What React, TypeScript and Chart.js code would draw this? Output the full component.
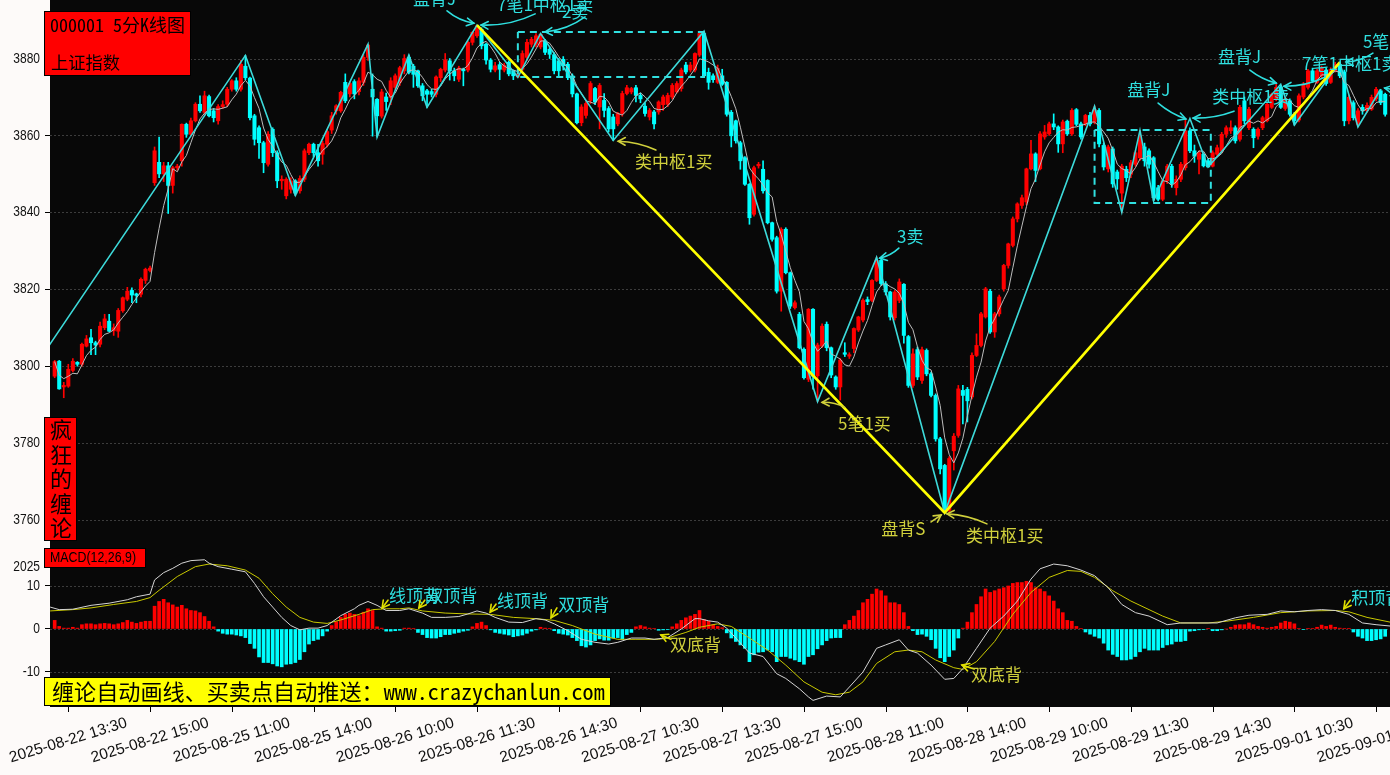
import React, { useEffect, useRef } from "react";
import { Chart, registerables } from "chart.js";

Chart.register(...registerables);

// ---------------- data ----------------
const openPrices = [
  3797.4, 3801.3, 3794.6, 3794.8, 3798.9, 3801.0, 3800.5, 3805.2, 3807.4, 3806.1,
  3805.7, 3810.0, 3811.7, 3809.2, 3809.1, 3814.4, 3817.4, 3819.7, 3818.8, 3818.7,
  3822.3, 3824.9, 3847.7, 3853.0, 3850.0, 3852.1, 3847.0, 3851.6, 3853.4, 3862.9,
  3860.3, 3863.8, 3868.1, 3866.0, 3870.1, 3866.4, 3863.8, 3867.5, 3868.1, 3872.0,
  3874.2, 3872.0, 3878.0, 3874.9, 3865.1, 3862.0, 3858.1, 3852.5, 3861.6, 3855.5,
  3848.2, 3844.3, 3846.0, 3848.2, 3845.6, 3848.6, 3855.5, 3857.7, 3855.5, 3855.1,
  3857.7, 3861.4, 3866.4, 3866.4, 3873.8, 3870.8, 3874.0, 3871.4, 3873.8, 3880.3,
  3872.0, 3869.4, 3865.0, 3870.0, 3869.9, 3872.5, 3873.8, 3876.8, 3880.3, 3878.0,
  3876.8, 3872.9, 3871.6, 3871.4, 3870.7, 3875.0, 3877.0, 3879.4, 3876.8, 3874.6,
  3877.2, 3877.0, 3884.2, 3885.9, 3887.6, 3883.7, 3879.6, 3877.0, 3878.4, 3877.0,
  3879.0, 3876.8, 3875.2, 3877.2, 3880.3, 3883.7, 3883.7, 3883.0, 3884.6, 3882.4,
  3881.0, 3879.4, 3879.8, 3878.5, 3875.5, 3870.8, 3863.3, 3865.2, 3869.1, 3872.2,
  3867.4, 3869.1, 3867.0, 3864.8, 3863.0, 3865.7, 3870.9, 3871.3, 3872.4, 3870.4,
  3867.6, 3864.8, 3866.1, 3866.1, 3868.0, 3868.1, 3870.0, 3871.3, 3872.2, 3878.3,
  3877.0, 3877.0, 3880.9, 3886.5, 3876.4, 3875.5, 3873.8, 3875.5, 3873.8, 3866.0,
  3863.8, 3858.1, 3854.2, 3847.3, 3839.5, 3852.1, 3851.2, 3848.3, 3837.3, 3833.4,
  3819.5, 3835.6, 3824.3, 3815.2, 3813.5, 3804.4, 3796.6, 3814.8, 3797.5, 3805.2,
  3810.9, 3804.8, 3797.2, 3794.6, 3803.5, 3802.6, 3804.6, 3809.4, 3812.0, 3817.3,
  3817.1, 3822.3, 3827.5, 3821.4, 3819.3, 3812.6, 3817.1, 3821.3, 3807.7, 3795.0,
  3804.3, 3796.3, 3804.1, 3798.0, 3792.4, 3781.1, 3774.2, 3762.5, 3778.0, 3782.0,
  3793.7, 3794.0, 3792.0, 3802.8, 3805.4, 3812.8, 3819.5, 3808.9, 3813.6, 3820.1,
  3826.2, 3831.4, 3838.3, 3841.8, 3842.7, 3851.3, 3855.2, 3851.3, 3859.6, 3860.4,
  3863.0, 3862.2, 3857.8, 3863.7, 3860.4, 3866.7, 3863.0, 3863.0, 3865.2, 3863.5,
  3866.5, 3857.4, 3851.3, 3856.5, 3850.5, 3845.0, 3851.2, 3849.9, 3852.5, 3854.2,
  3857.0, 3856.0, 3854.2, 3846.4, 3843.4, 3848.2, 3852.0, 3846.4, 3848.6, 3851.6,
  3861.2, 3856.0, 3853.8, 3855.1, 3853.4, 3852.0, 3855.1, 3855.9, 3860.3, 3861.2,
  3862.0, 3859.0, 3869.0, 3862.0, 3861.6, 3859.8, 3862.0, 3863.8, 3867.3, 3869.5,
  3872.5, 3867.0, 3869.0, 3865.5, 3864.0, 3870.0, 3872.5, 3876.8, 3873.8, 3875.5,
  3877.0, 3873.8, 3876.8, 3878.5, 3876.5, 3863.8, 3868.5, 3862.9, 3867.3, 3866.4,
  3866.8, 3869.5, 3871.6, 3870.7,
];

const closePrices = [
  3801.2, 3794.1, 3795.0, 3799.2, 3801.3, 3800.5, 3805.7, 3807.1, 3806.1, 3805.5,
  3810.4, 3812.3, 3809.1, 3810.0, 3814.5, 3817.8, 3819.5, 3818.5, 3818.4, 3822.6,
  3825.2, 3825.5, 3856.0, 3850.0, 3852.1, 3847.0, 3851.6, 3852.0, 3862.9, 3860.3,
  3863.8, 3868.1, 3866.4, 3870.3, 3865.1, 3864.6, 3867.5, 3868.0, 3872.0, 3874.2,
  3872.0, 3878.5, 3875.0, 3864.6, 3859.0, 3858.1, 3852.9, 3860.3, 3855.5, 3848.2,
  3848.6, 3848.6, 3848.2, 3845.0, 3848.8, 3856.0, 3857.7, 3855.5, 3853.4, 3857.9,
  3861.0, 3865.1, 3867.7, 3871.2, 3869.0, 3873.5, 3870.8, 3874.2, 3880.3, 3883.5,
  3870.0, 3865.1, 3871.3, 3868.8, 3874.2, 3875.5, 3877.6, 3880.0, 3876.4, 3875.9,
  3872.9, 3870.3, 3870.7, 3870.7, 3875.2, 3877.2, 3879.6, 3876.8, 3875.5, 3877.5,
  3876.8, 3884.2, 3886.8, 3888.5, 3883.3, 3879.6, 3877.2, 3878.1, 3877.2, 3878.2,
  3876.0, 3875.5, 3876.0, 3881.3, 3884.2, 3885.0, 3885.9, 3886.3, 3881.6, 3881.1,
  3876.8, 3876.8, 3878.1, 3875.0, 3870.8, 3863.3, 3867.4, 3868.3, 3873.5, 3868.7,
  3873.0, 3866.5, 3861.7, 3861.7, 3865.7, 3870.9, 3872.4, 3872.2, 3870.4, 3869.5,
  3865.7, 3866.5, 3863.0, 3868.7, 3870.0, 3870.4, 3873.0, 3873.5, 3877.0, 3876.5,
  3878.3, 3881.3, 3886.5, 3875.5, 3873.8, 3874.5, 3877.4, 3873.3, 3865.5, 3859.9,
  3858.6, 3853.4, 3847.3, 3838.6, 3851.6, 3852.5, 3845.6, 3837.3, 3833.0, 3819.5,
  3835.6, 3824.3, 3815.6, 3816.5, 3804.8, 3797.0, 3814.8, 3797.4, 3805.5, 3810.4,
  3804.8, 3797.7, 3794.6, 3801.6, 3803.1, 3803.0, 3809.8, 3812.8, 3817.1, 3816.8,
  3822.3, 3827.5, 3821.5, 3819.3, 3812.8, 3819.3, 3821.9, 3808.0, 3795.0, 3803.2,
  3797.2, 3804.3, 3798.0, 3792.4, 3781.1, 3773.3, 3762.1, 3776.0, 3781.8, 3794.1,
  3792.4, 3791.0, 3802.8, 3805.4, 3813.6, 3820.1, 3808.9, 3813.6, 3818.0, 3826.2,
  3831.8, 3838.3, 3842.2, 3843.8, 3851.3, 3855.2, 3850.9, 3860.4, 3860.9, 3863.0,
  3862.2, 3857.8, 3863.5, 3860.4, 3866.5, 3862.9, 3859.6, 3865.2, 3863.0, 3866.7,
  3857.8, 3851.8, 3857.0, 3847.4, 3848.7, 3852.0, 3849.0, 3852.9, 3855.5, 3859.9,
  3853.4, 3852.5, 3843.8, 3843.4, 3848.2, 3852.0, 3847.5, 3848.6, 3852.5, 3861.2,
  3856.0, 3854.6, 3855.5, 3852.1, 3851.8, 3855.5, 3856.8, 3860.3, 3862.0, 3862.0,
  3858.6, 3867.3, 3863.8, 3866.8, 3859.4, 3861.6, 3864.6, 3868.1, 3870.7, 3872.5,
  3867.3, 3869.5, 3865.5, 3863.8, 3870.3, 3873.3, 3876.8, 3874.2, 3876.8, 3877.6,
  3873.5, 3877.2, 3878.5, 3875.5, 3863.8, 3869.9, 3864.6, 3866.4, 3866.4, 3867.8,
  3869.9, 3872.0, 3868.5, 3865.5,
];

const highPrices = [
  3801.5, 3801.5, 3795.8, 3800.5, 3802.0, 3801.2, 3806.0, 3808.0, 3809.6, 3806.5,
  3811.5, 3813.5, 3813.5, 3811.0, 3815.0, 3818.0, 3820.5, 3820.4, 3819.0, 3823.0,
  3825.5, 3826.0, 3857.0, 3859.6, 3853.0, 3853.0, 3852.0, 3852.5, 3863.0, 3863.2,
  3864.5, 3868.5, 3870.3, 3871.5, 3870.5, 3867.0, 3868.0, 3869.0, 3872.5, 3874.5,
  3875.0, 3879.5, 3880.8, 3875.2, 3865.5, 3862.5, 3858.5, 3861.0, 3862.0, 3856.0,
  3849.5, 3849.0, 3849.0, 3848.5, 3849.5, 3856.5, 3858.0, 3858.0, 3857.7, 3858.5,
  3861.5, 3866.0, 3868.0, 3871.5, 3876.0, 3874.0, 3874.5, 3875.0, 3881.0, 3883.7,
  3876.0, 3869.6, 3872.0, 3871.0, 3875.0, 3876.0, 3878.0, 3881.0, 3880.9, 3878.5,
  3877.0, 3873.5, 3872.0, 3872.0, 3875.5, 3877.5, 3881.3, 3880.0, 3877.5, 3878.0,
  3877.5, 3884.5, 3887.0, 3888.7, 3888.0, 3884.0, 3880.0, 3879.0, 3879.0, 3878.8,
  3879.4, 3877.0, 3876.5, 3882.0, 3885.0, 3885.5, 3886.5, 3886.5, 3885.0, 3883.0,
  3881.5, 3880.0, 3880.5, 3879.0, 3876.0, 3871.0, 3868.0, 3869.0, 3874.0, 3872.5,
  3873.5, 3870.9, 3867.5, 3865.5, 3866.0, 3871.5, 3873.0, 3872.5, 3873.0, 3871.0,
  3868.5, 3867.0, 3866.5, 3869.0, 3870.5, 3871.0, 3873.5, 3874.0, 3877.5, 3879.0,
  3879.0, 3881.5, 3887.1, 3887.0, 3877.5, 3876.0, 3878.3, 3877.2, 3874.0, 3866.5,
  3864.0, 3858.5, 3854.5, 3847.5, 3852.0, 3853.0, 3853.4, 3848.5, 3837.5, 3833.8,
  3836.0, 3836.0, 3824.5, 3817.0, 3814.0, 3804.8, 3815.0, 3815.0, 3806.0, 3811.0,
  3811.5, 3805.0, 3797.5, 3802.0, 3806.1, 3803.5, 3810.0, 3813.0, 3817.5, 3818.0,
  3822.5, 3828.3, 3828.0, 3822.0, 3819.5, 3819.7, 3822.7, 3821.5, 3808.0, 3804.5,
  3805.0, 3805.0, 3804.5, 3798.5, 3792.8, 3781.5, 3774.5, 3776.5, 3782.5, 3795.0,
  3795.0, 3794.5, 3803.5, 3808.4, 3814.0, 3820.5, 3820.0, 3814.0, 3818.5, 3826.5,
  3832.0, 3838.8, 3842.5, 3844.5, 3851.5, 3858.7, 3855.5, 3861.0, 3862.6, 3863.5,
  3865.6, 3862.5, 3864.0, 3864.0, 3867.0, 3867.0, 3863.5, 3865.5, 3866.0, 3867.6,
  3867.0, 3858.0, 3857.5, 3857.0, 3851.0, 3852.5, 3852.0, 3853.5, 3856.0, 3861.3,
  3858.0, 3856.5, 3854.5, 3847.0, 3848.5, 3852.5, 3852.5, 3849.5, 3853.0, 3864.4,
  3862.0, 3857.5, 3856.0, 3855.5, 3854.0, 3856.0, 3857.5, 3860.8, 3862.5, 3863.8,
  3862.5, 3867.8, 3870.0, 3867.3, 3862.0, 3862.0, 3865.0, 3868.5, 3871.0, 3873.3,
  3873.0, 3870.0, 3869.5, 3866.0, 3870.8, 3873.8, 3877.2, 3877.5, 3877.2, 3878.0,
  3877.5, 3877.6, 3879.0, 3879.0, 3877.0, 3870.5, 3869.0, 3867.0, 3868.0, 3868.5,
  3870.5, 3872.5, 3872.0, 3871.0,
];

const lowPrices = [
  3797.0, 3794.0, 3791.8, 3794.5, 3798.5, 3800.0, 3800.0, 3805.0, 3803.0, 3803.0,
  3805.0, 3809.5, 3809.0, 3808.0, 3807.5, 3814.0, 3817.0, 3816.5, 3816.5, 3818.0,
  3821.5, 3824.5, 3847.0, 3849.0, 3848.0, 3839.7, 3845.0, 3851.0, 3852.0, 3859.5,
  3860.0, 3863.5, 3866.0, 3865.5, 3864.8, 3863.5, 3862.9, 3867.0, 3867.5, 3871.5,
  3871.5, 3871.5, 3874.5, 3864.0, 3857.5, 3854.0, 3850.3, 3852.0, 3854.5, 3846.4,
  3846.0, 3843.5, 3845.0, 3844.4, 3845.0, 3848.0, 3855.0, 3854.5, 3852.0, 3852.5,
  3857.0, 3860.5, 3865.5, 3866.0, 3868.5, 3870.0, 3869.5, 3870.5, 3873.0, 3879.5,
  3859.8, 3859.6, 3864.5, 3866.5, 3868.0, 3872.0, 3873.0, 3876.0, 3876.0, 3872.5,
  3872.5, 3869.0, 3867.3, 3870.0, 3870.0, 3874.0, 3876.5, 3874.4, 3874.2, 3874.0,
  3872.9, 3876.5, 3883.5, 3885.5, 3882.5, 3878.5, 3876.5, 3876.5, 3874.5, 3876.5,
  3875.5, 3874.5, 3875.1, 3876.8, 3879.5, 3883.0, 3883.0, 3882.5, 3881.0, 3880.0,
  3876.0, 3875.5, 3877.0, 3874.5, 3870.0, 3863.0, 3862.5, 3864.5, 3868.3, 3868.0,
  3861.7, 3864.8, 3860.9, 3858.7, 3862.5, 3865.0, 3870.5, 3870.8, 3868.7, 3868.5,
  3865.0, 3864.0, 3861.7, 3865.5, 3866.5, 3867.5, 3869.5, 3871.0, 3871.5, 3876.0,
  3876.5, 3876.5, 3880.5, 3875.0, 3872.0, 3873.8, 3873.5, 3873.0, 3865.0, 3857.0,
  3858.0, 3851.2, 3847.0, 3836.9, 3839.0, 3851.5, 3845.0, 3837.0, 3832.5, 3819.0,
  3814.3, 3824.0, 3815.0, 3814.8, 3804.5, 3796.6, 3796.0, 3794.0, 3790.8, 3804.8,
  3804.0, 3797.0, 3794.0, 3791.2, 3802.5, 3802.0, 3803.5, 3809.0, 3811.5, 3816.0,
  3816.8, 3822.0, 3821.0, 3818.5, 3812.0, 3812.0, 3816.5, 3806.0, 3794.5, 3794.5,
  3796.5, 3795.5, 3797.5, 3792.0, 3780.5, 3772.0, 3761.9, 3762.0, 3773.0, 3781.5,
  3785.0, 3785.5, 3791.5, 3802.5, 3805.0, 3812.5, 3808.5, 3807.5, 3813.0, 3819.5,
  3825.5, 3831.0, 3837.5, 3841.0, 3842.0, 3851.0, 3848.0, 3851.0, 3859.0, 3860.0,
  3861.5, 3855.6, 3855.5, 3860.0, 3860.0, 3862.5, 3859.0, 3862.5, 3862.5, 3863.0,
  3857.0, 3851.0, 3850.5, 3846.5, 3846.0, 3840.0, 3848.0, 3849.0, 3852.0, 3853.5,
  3852.0, 3851.5, 3843.0, 3843.0, 3843.0, 3847.5, 3846.5, 3844.5, 3848.0, 3851.0,
  3855.5, 3853.0, 3850.0, 3851.8, 3851.8, 3851.8, 3854.5, 3855.5, 3859.5, 3860.5,
  3858.0, 3858.5, 3863.0, 3861.5, 3856.8, 3859.0, 3861.5, 3863.5, 3867.0, 3869.0,
  3867.0, 3866.5, 3865.0, 3862.7, 3863.5, 3869.5, 3872.0, 3873.8, 3873.5, 3875.0,
  3873.0, 3873.5, 3876.5, 3875.0, 3862.5, 3863.0, 3864.0, 3862.2, 3865.5, 3866.0,
  3866.5, 3869.0, 3868.0, 3865.0,
];

// bi (stroke) pivots and segment pivots: bar index / price
const biBars = [-5, 42, 53, 69, 71, 78, 82, 93, 102, 107, 123, 143, 168, 181, 196, 229, 235, 239, 242, 250, 254, 270, 273, 283, 287, 292];
const biPrices = [3798.8, 3880.8, 3844.4, 3883.7, 3859.6, 3880.9, 3867.3, 3888.7, 3875.1, 3886.5, 3858.7, 3887.1, 3790.8, 3828.3, 3761.9, 3867.6, 3840.0, 3861.3, 3843.0, 3864.4, 3851.8, 3873.3, 3862.7, 3879.0, 3862.2, 3872.0];
const segBars = [93, 196, 283];
const segPrices = [3888.7, 3761.9, 3879.0];

// pivot zones (zhongshu)
const zsStartBars = [102, 229];
const zsEndBars = [143, 254.6];
const zsHighs = [3886.9, 3861.4];
const zsLows = [3875.2, 3842.4];

// MACD
const macdHist = [
  2.0, 0.6, 0.2, 0.2, 0.4, 0.2, 1.0, 1.2, 1.2, 1.0,
  1.2, 1.3, 1.2, 1.0, 1.2, 1.5, 2.0, 1.6, 1.3, 1.6,
  1.8, 1.8, 5.3, 6.4, 6.9, 6.1, 5.6, 5.1, 5.5, 4.7,
  4.3, 4.2, 3.8, 2.9, 1.8, 0.5, -0.5, -1.0, -1.2, -1.2,
  -1.4, -1.6, -2.0, -3.4, -4.5, -6.5, -7.8, -7.8, -8.1, -8.6,
  -8.8, -8.2, -8.1, -7.8, -7.1, -5.3, -3.5, -2.7, -2.4, -1.6,
  -0.5, 0.8, 1.7, 2.7, 3.4, 3.7, 3.4, 3.1, 3.9, 4.7,
  4.3, 0.5, 0.2, -0.5, -0.5, -0.4, -0.3, 0.2, 0.2, 0.1,
  -0.8, -1.3, -2.0, -2.1, -2.1, -1.8, -1.3, -1.3, -1.0, -0.8,
  -0.5, -0.3, 0.5, 1.3, 1.6, 0.8, -0.2, -0.8, -1.0, -1.2,
  -1.4, -1.8, -1.6, -1.4, -1.0, -0.5, -0.2, 0.4, 0.2, 0.1,
  -0.4, -1.0, -1.2, -1.4, -2.0, -2.7, -3.9, -4.2, -3.7, -2.7,
  -2.3, -2.6, -2.6, -2.1, -2.0, -2.4, -1.3, -0.8, 0.5, 0.8,
  0.5, 0.2, 0.1, -0.3, -0.2, -0.1, 0.5, 1.2, 2.0, 2.6,
  3.0, 3.4, 4.3, 2.2, 1.8, 1.0, 0.6, 0.3, -0.9, -2.1,
  -2.9, -3.7, -4.5, -7.6, -6.0, -5.4, -5.3, -4.9, -5.3, -7.6,
  -6.4, -6.4, -6.8, -7.2, -7.6, -8.2, -6.4, -6.0, -4.6, -3.7,
  -2.7, -2.1, -2.0, -2.0, 1.0, 2.0, 3.0, 4.3, 6.1, 6.9,
  8.1, 9.3, 8.9, 7.7, 6.1, 6.1, 5.7, 3.8, 0.6, -0.4,
  -1.3, -1.2, -1.7, -2.5, -4.5, -6.7, -7.6, -6.4, -4.9, -2.1,
  0.2, 1.6, 3.8, 5.7, 7.5, 9.3, 8.5, 8.9, 9.3, 9.6,
  10.0, 10.6, 10.8, 10.8, 11.1, 10.8, 9.6, 9.3, 8.7, 7.7,
  6.5, 4.7, 3.8, 2.0, 1.8, 0.6, 0.1, -0.7, -1.2, -1.7,
  -2.1, -3.3, -4.9, -5.9, -6.4, -7.2, -7.2, -7.0, -6.4, -5.3,
  -4.5, -4.9, -4.9, -4.9, -4.3, -3.7, -3.5, -2.9, -2.9, -2.7,
  -0.5, -0.4, -0.2, -0.1, 0.1, -0.4, -0.4, -0.2, 0.0, 0.4,
  0.9, 1.0, 1.0, 1.4, 1.0, 0.6, 0.4, 0.2, 0.4, 0.6,
  1.4, 1.8, 1.6, 1.2, 0.1, -0.1, 0.1, 0.1, 0.4, 0.9,
  0.6, 0.9, 0.4, 0.2, 0.1, 0.1, -0.7, -1.7, -2.1, -2.7,
  -2.7, -2.5, -2.3, -1.7,
];

const difBars = [-1, 1, 4, 8, 12, 16, 18, 21, 22, 24, 26, 28, 30, 33, 34, 36, 39, 42, 44, 46, 48, 50, 52, 54, 56, 58, 60, 63, 66, 67, 69, 71, 73, 76, 78, 81, 83, 86, 89, 91, 93, 95, 97, 100, 103, 106, 108, 110, 113, 116, 119, 122, 124, 127, 130, 132, 135, 138, 141, 142, 144, 146, 148, 150, 153, 156, 159, 161, 164, 166, 167, 170, 173, 175, 178, 181, 183, 186, 188, 190, 193, 196, 198, 200, 203, 206, 209, 212, 215, 217, 220, 223, 226, 229, 232, 235, 238, 241, 245, 248, 252, 256, 260, 263, 267, 270, 273, 276, 279, 282, 285, 288, 291, 295];
const difValues = [5.1, 4.5, 4.6, 5.5, 6.0, 6.8, 7.5, 8.1, 11.4, 13.1, 14.1, 15.3, 15.9, 16.1, 15.3, 14.5, 13.9, 13.3, 10.6, 7.5, 5.1, 2.7, 0.8, -0.2, 0.2, 0.2, 0.8, 3.1, 4.7, 5.5, 6.4, 5.5, 4.3, 4.3, 4.7, 3.7, 2.7, 2.7, 2.9, 3.5, 4.2, 3.7, 2.7, 1.6, 1.5, 2.4, 2.1, 1.2, -0.4, -2.4, -3.1, -3.5, -3.1, -2.1, -2.1, -2.4, -2.0, 0.0, 2.4, 2.4, 1.9, 1.6, 0.2, -2.1, -5.6, -6.4, -10.4, -11.5, -13.9, -15.8, -16.6, -15.6, -15.8, -13.5, -10.0, -4.5, -3.7, -2.5, -4.9, -5.6, -8.4, -11.7, -11.5, -9.2, -4.5, 0.2, 3.0, 6.5, 11.6, 14.0, 15.1, 14.7, 13.7, 12.4, 9.6, 5.7, 3.8, 3.0, 1.0, 1.4, 1.4, 1.4, 2.6, 3.2, 3.4, 4.2, 4.0, 4.3, 4.5, 4.3, 3.4, 1.4, 1.0, 0.6];
const deaBars = [-1, 4, 8, 13, 18, 21, 23, 27, 31, 34, 38, 42, 45, 48, 51, 54, 57, 60, 63, 67, 70, 73, 76, 78, 81, 86, 91, 96, 101, 106, 110, 114, 119, 124, 128, 133, 135, 139, 142, 146, 149, 153, 157, 161, 165, 169, 172, 175, 178, 181, 185, 188, 191, 194, 198, 200, 203, 207, 211, 215, 219, 223, 226, 229, 233, 237, 241, 244, 248, 254, 258, 264, 270, 276, 282, 285, 289, 295];
const deaValues = [4.2, 4.5, 4.9, 5.7, 6.4, 7.3, 9.0, 12.2, 14.5, 15.1, 14.7, 13.7, 11.8, 8.2, 5.1, 2.7, 1.6, 1.3, 2.1, 3.4, 4.5, 4.7, 4.7, 4.9, 4.2, 3.7, 3.5, 3.4, 2.7, 2.4, 2.0, 0.8, -1.2, -2.4, -2.4, -2.4, -2.1, -0.8, 0.4, 1.2, 0.6, -2.1, -4.9, -8.4, -12.3, -14.7, -15.3, -14.7, -12.3, -8.0, -5.3, -4.9, -5.3, -7.2, -9.0, -9.4, -7.6, -2.9, 3.4, 8.5, 12.0, 13.6, 13.4, 12.0, 8.9, 6.5, 4.5, 3.0, 1.4, 1.4, 1.8, 2.7, 3.8, 4.2, 4.3, 4.0, 2.7, 1.4];

// axes
const priceTicks = [3760, 3780, 3800, 3820, 3840, 3860, 3880];
const macdTickValues = [-10, 0, 10, 14.4];
const macdTickLabels = ["-10", "0", "10", "2025"];
const xTickBars = [3, 21, 39, 57, 75, 93, 111, 129, 147, 165, 183, 201, 219, 237, 255, 273, 291];
const xTickLabels = [
  "2025-08-22 13:30", "2025-08-22 15:00", "2025-08-25 11:00", "2025-08-25 14:00",
  "2025-08-26 10:00", "2025-08-26 11:30", "2025-08-26 14:30", "2025-08-27 10:30",
  "2025-08-27 13:30", "2025-08-27 15:00", "2025-08-28 11:00", "2025-08-28 14:00",
  "2025-08-29 10:00", "2025-08-29 11:30", "2025-08-29 14:30", "2025-09-01 10:30",
  "2025-09-01 13:30",
];

// annotations on the price panel
const noteTexts = ["盘背J", "7笔1中枢1卖", "2卖", "类中枢1买", "3卖", "5笔1买", "盘背S", "类中枢1买", "盘背J", "类中枢1卖", "盘背J", "7笔1中枢1卖", "5笔1卖", "盘背J"];
const noteKinds = ["c", "c", "c", "y", "c", "y", "y", "y", "c", "c", "c", "c", "c", "c"];
const noteTextBars = [78.9, 97.4, 111.7, 127.8, 185.5, 172.5, 182.0, 200.7, 236.2, 254.9, 256.2, 274.7, 288.1, 293.8];
const noteTextPrices = [3895.7, 3893.9, 3892.1, 3853.1, 3833.6, 3785.2, 3757.7, 3755.9, 3871.8, 3870.0, 3880.4, 3878.6, 3884.3, 3872.3];
const noteFromBars = [86.4, 105.8, 116.8, 132.4, 185.9, 174.0, 193.0, 205.3, 243.0, 259.7, 263.2, 279.8, 290.3, 295.5];
const noteFromPrices = [3892.4, 3891.6, 3890.8, 3856.2, 3830.7, 3789.3, 3759.5, 3759.0, 3868.4, 3866.3, 3877.0, 3875.2, 3881.4, 3871.8];
const noteToBars = [92.3, 93.9, 108.0, 124.1, 181.7, 169.0, 195.2, 196.5, 249.1, 250.7, 269.0, 270.7, 284.4, 292.9];
const noteToPrices = [3889.2, 3888.7, 3886.9, 3858.5, 3828.1, 3790.6, 3761.3, 3761.6, 3864.3, 3864.5, 3873.6, 3872.8, 3879.1, 3872.3];
const noteBends = [4, -7, -6, 4, -3, 3, 0, 4, 3, -4, 3, -5, -4, 0];

// annotations on the MACD panel
const macdNoteTexts = ["线顶背", "双顶背", "线顶背", "双顶背", "双底背", "双底背", "积顶背"];
const macdNoteKinds = ["c", "c", "c", "c", "y", "y", "c"];
const macdNoteTextBars = [73.6, 81.8, 97.4, 110.9, 135.5, 201.8, 285.5];
const macdNoteTextValues = [7.7, 7.7, 6.5, 5.6, -3.7, -10.7, 7.4];
const macdNoteFromBars = [73.4, 81.5, 97.2, 110.6, 135.7, 202.5, 285.3];
const macdNoteFromValues = [6.7, 6.7, 5.8, 4.9, -2.4, -9.3, 6.7];
const macdNoteToBars = [72.1, 80.2, 95.9, 109.3, 133.5, 199.8, 283.9];
const macdNoteToValues = [4.9, 4.9, 3.9, 2.6, -1.4, -8.4, 4.7];

// ---------------- style ----------------
const PAGE_BG = "#fdfaf9";
const PLOT_BG = "#080808";
const GRID = "#3c3c3c";
const UP = "#ff0000";
const DOWN = "#00ffff";
const BI = "#3ddada";
const SEG = "#ffff00";
const ZS = "#30e0e0";
const MA = "#bcbcbc";
const DIF = "#d4d4d4";
const DEA = "#c8c800";
const CYAN_TEXT = "#2fe0e0";
const YELLOW_TEXT = "#d0d03c";
const MACD_ARROW = "#e0e000";
const CJK = '"Noto Sans CJK SC", "Noto Sans", sans-serif';
const SANS = '"Liberation Sans", Arial, sans-serif';
const X_MIN = -1.03;
const X_MAX = 294.06;
const B_TOP = 546;

function fitText(ctx: any, text: string, family: string, target: number) {
  ctx.font = `20px ${family}`;
  const w = ctx.measureText(text).width || 1;
  const size = (20 * target) / w;
  ctx.font = `${size}px ${family}`;
}

function drawArrow(ctx: any, x1: number, y1: number, x2: number, y2: number, bend: number, color: string) {
  const dx = x2 - x1, dy = y2 - y1;
  const len = Math.hypot(dx, dy) || 1;
  const cx = (x1 + x2) / 2 + (-dy / len) * bend;
  const cy = (y1 + y2) / 2 + (dx / len) * bend;
  ctx.save();
  ctx.strokeStyle = color;
  ctx.lineWidth = 1.6;
  ctx.lineCap = "round";
  ctx.beginPath();
  ctx.moveTo(x1, y1);
  ctx.quadraticCurveTo(cx, cy, x2, y2);
  ctx.stroke();
  const ang = Math.atan2(y2 - cy, x2 - cx);
  const h = 8;
  ctx.beginPath();
  ctx.moveTo(x2 - h * Math.cos(ang - 0.5), y2 - h * Math.sin(ang - 0.5));
  ctx.lineTo(x2, y2);
  ctx.lineTo(x2 - h * Math.cos(ang + 0.5), y2 - h * Math.sin(ang + 0.5));
  ctx.stroke();
  ctx.restore();
}

// condensed y-axis labels (narrow font look)
function drawYLabels(ctx: any, ys: any, values: number[], labels: string[]) {
  ctx.save();
  ctx.fillStyle = "#111";
  ctx.font = `15px ${SANS}`;
  ctx.textAlign = "right";
  ctx.textBaseline = "middle";
  values.forEach((v, k) => {
    const y = ys.getPixelForValue(v);
    ctx.save();
    ctx.translate(40, y);
    ctx.scale(0.8, 1);
    ctx.fillText(labels[k], 0, 0);
    ctx.restore();
  });
  ctx.restore();
}

export default function App() {
  const mainRef = useRef<HTMLCanvasElement>(null);
  const macdRef = useRef<HTMLCanvasElement>(null);

  useEffect(() => {
    const idx = closePrices.map((_, i) => i);
    const candleColors = idx.map((i) => (closePrices[i] >= openPrices[i] ? UP : DOWN));
    const ma5 = idx.map((i) => {
      const from = Math.max(0, i - 4);
      let s = 0;
      for (let j = from; j <= i; j++) s += closePrices[j];
      return { x: i, y: s / (i - from + 1) };
    });
    const zsDatasets = zsStartBars.map((s, k) => ({
      type: "line",
      data: [
        { x: s, y: zsHighs[k] },
        { x: zsEndBars[k], y: zsHighs[k] },
        { x: zsEndBars[k], y: zsLows[k] },
        { x: s, y: zsLows[k] },
        { x: s, y: zsHighs[k] },
      ],
      borderColor: ZS,
      borderWidth: 2,
      borderDash: [7, 5],
      pointRadius: 0,
      fill: false,
      order: 6,
    }));

    const yAxisCommon = (ticksArr: number[]) => ({
      position: "left",
      afterFit: (s: any) => {
        s.width = 50;
      },
      afterBuildTicks: (s: any) => {
        s.ticks = ticksArr.map((v) => ({ value: v }));
      },
      ticks: { display: false, autoSkip: false },
      grid: { display: true, drawOnChartArea: false, drawTicks: true, tickLength: 5, tickColor: "#000", tickWidth: 1 },
      border: { display: false },
    });

    const mainPlugin = {
      id: "mainDecor",
      beforeDraw(chart: any) {
        const { ctx, chartArea: a } = chart;
        ctx.save();
        ctx.fillStyle = PLOT_BG;
        ctx.fillRect(a.left, a.top, a.right - a.left, a.bottom - a.top);
        ctx.restore();
      },
      beforeDatasetsDraw(chart: any) {
        const { ctx, chartArea: a } = chart;
        const ys = chart.scales.y;
        ctx.save();
        ctx.strokeStyle = GRID;
        ctx.lineWidth = 1;
        ctx.setLineDash([2, 2]);
        priceTicks.forEach((v) => {
          const y = Math.round(ys.getPixelForValue(v)) + 0.5;
          ctx.beginPath();
          ctx.moveTo(a.left, y);
          ctx.lineTo(a.right, y);
          ctx.stroke();
        });
        ctx.restore();
      },
      afterDatasetsDraw(chart: any) {
        const { ctx } = chart;
        const xs = chart.scales.x;
        const ys = chart.scales.y;
        noteTexts.forEach((t, k) => {
          const color = noteKinds[k] === "c" ? CYAN_TEXT : YELLOW_TEXT;
          drawArrow(
            ctx,
            xs.getPixelForValue(noteFromBars[k]),
            ys.getPixelForValue(noteFromPrices[k]),
            xs.getPixelForValue(noteToBars[k]),
            ys.getPixelForValue(noteToPrices[k]),
            noteBends[k],
            color
          );
          ctx.save();
          ctx.fillStyle = color;
          ctx.font = `17px ${CJK}`;
          ctx.textAlign = "left";
          ctx.textBaseline = "middle";
          ctx.fillText(t, xs.getPixelForValue(noteTextBars[k]), ys.getPixelForValue(noteTextPrices[k]));
          ctx.restore();
        });
      },
      afterDraw(chart: any) {
        const { ctx } = chart;
        drawYLabels(ctx, chart.scales.y, priceTicks, priceTicks.map((v) => String(v)));
        // title box
        ctx.save();
        ctx.fillStyle = "#ff0000";
        ctx.fillRect(44, 11, 147, 65);
        ctx.strokeStyle = "#000";
        ctx.lineWidth = 1;
        ctx.strokeRect(44.5, 11.5, 146, 64);
        ctx.fillStyle = "#000";
        ctx.textAlign = "left";
        ctx.textBaseline = "middle";
        fitText(ctx, "000001 5分K线图", '"Noto Sans Mono CJK SC", ' + CJK, 135);
        ctx.fillText("000001 5分K线图", 50, 25);
        fitText(ctx, "上证指数", CJK, 69);
        ctx.fillText("上证指数", 51, 62);
        // vertical box
        ctx.fillStyle = "#ff0000";
        ctx.fillRect(44, 417, 33, 124);
        ctx.strokeRect(44.5, 417.5, 32, 123);
        ctx.fillStyle = "#000";
        ctx.textAlign = "center";
        ctx.font = `22px ${CJK}`;
        ["疯", "狂", "的", "缠", "论"].forEach((ch, k) => ctx.fillText(ch, 61, 430 + k * 24.5));
        ctx.restore();
      },
    };

    const macdPlugin = {
      id: "macdDecor",
      beforeDraw(chart: any) {
        const { ctx, chartArea: a } = chart;
        ctx.save();
        ctx.fillStyle = PLOT_BG;
        ctx.fillRect(a.left, a.top, a.right - a.left, a.bottom - a.top);
        ctx.restore();
      },
      beforeDatasetsDraw(chart: any) {
        const { ctx, chartArea: a } = chart;
        const ys = chart.scales.y;
        ctx.save();
        ctx.strokeStyle = GRID;
        ctx.lineWidth = 1;
        ctx.setLineDash([2, 2]);
        [-10, 0, 10].forEach((v) => {
          const y = Math.round(ys.getPixelForValue(v)) + 0.5;
          ctx.beginPath();
          ctx.moveTo(a.left, y);
          ctx.lineTo(a.right, y);
          ctx.stroke();
        });
        ctx.restore();
      },
      afterDraw(chart: any) {
        const { ctx, chartArea: a } = chart;
        const xs = chart.scales.x;
        const ys = chart.scales.y;
        drawYLabels(ctx, ys, macdTickValues, macdTickLabels);
        // annotations
        macdNoteTexts.forEach((t, k) => {
          drawArrow(
            ctx,
            xs.getPixelForValue(macdNoteFromBars[k]),
            ys.getPixelForValue(macdNoteFromValues[k]),
            xs.getPixelForValue(macdNoteToBars[k]),
            ys.getPixelForValue(macdNoteToValues[k]),
            0,
            MACD_ARROW
          );
          ctx.save();
          ctx.fillStyle = macdNoteKinds[k] === "c" ? CYAN_TEXT : YELLOW_TEXT;
          ctx.font = `17px ${CJK}`;
          ctx.textAlign = "left";
          ctx.textBaseline = "middle";
          ctx.fillText(t, xs.getPixelForValue(macdNoteTextBars[k]), ys.getPixelForValue(macdNoteTextValues[k]));
          ctx.restore();
        });
        ctx.save();
        // MACD label
        ctx.fillStyle = "#ff0000";
        ctx.fillRect(44, 548 - B_TOP, 102, 20);
        ctx.strokeStyle = "#000";
        ctx.lineWidth = 1;
        ctx.strokeRect(44.5, 548.5 - B_TOP, 101, 19);
        ctx.fillStyle = "#000";
        ctx.textAlign = "left";
        ctx.textBaseline = "middle";
        ctx.font = `14px ${SANS}`;
        const mw = ctx.measureText("MACD(12,26,9)").width || 1;
        ctx.save();
        ctx.translate(50, 558 - B_TOP);
        ctx.scale(86 / mw, 1);
        ctx.fillText("MACD(12,26,9)", 0, 0);
        ctx.restore();
        // banner
        ctx.fillStyle = "#ffff00";
        ctx.fillRect(44, 677 - B_TOP, 567, 29);
        ctx.strokeRect(44.5, 677.5 - B_TOP, 566, 28);
        ctx.fillStyle = "#000";
        const banner = "缠论自动画线、买卖点自动推送：www.crazychanlun.com";
        fitText(ctx, banner, '"Noto Sans Mono CJK SC", ' + CJK, 553);
        ctx.fillText(banner, 52, 691.5 - B_TOP);
        // x axis ticks and rotated labels
        const rot = (17 * Math.PI) / 180;
        ctx.font = `15.5px ${SANS}`;
        ctx.fillStyle = "#111";
        ctx.textAlign = "center";
        ctx.textBaseline = "middle";
        xTickBars.forEach((b, k) => {
          const px = xs.getPixelForValue(b);
          ctx.strokeStyle = "#000";
          ctx.beginPath();
          ctx.moveTo(Math.round(px) + 0.5, a.bottom);
          ctx.lineTo(Math.round(px) + 0.5, a.bottom + 5);
          ctx.stroke();
          const w = ctx.measureText(xTickLabels[k]).width;
          const H = w * Math.sin(rot) + 14 * Math.cos(rot);
          ctx.save();
          ctx.translate(px, a.bottom + 9 + H / 2);
          ctx.rotate(-rot);
          ctx.fillText(xTickLabels[k], 0, 0);
          ctx.restore();
        });
        ctx.restore();
      },
    };

    const mainChart = new Chart(mainRef.current as HTMLCanvasElement, {
      type: "bar",
      data: {
        datasets: [
          {
            type: "bar",
            data: idx.map((i) => ({ x: i, y: [lowPrices[i], highPrices[i]] })),
            backgroundColor: candleColors,
            barThickness: 1,
            grouped: false,
            order: 10,
          },
          {
            type: "bar",
            data: idx.map((i) => ({ x: i, y: [openPrices[i], closePrices[i]] })),
            backgroundColor: candleColors,
            barThickness: 3.4,
            minBarLength: 1,
            grouped: false,
            order: 9,
          },
          {
            type: "line",
            data: ma5,
            borderColor: MA,
            borderWidth: 1,
            pointRadius: 0,
            order: 8,
          },
          ...zsDatasets,
          {
            type: "line",
            data: biBars.map((b, k) => ({ x: b, y: biPrices[k] })),
            borderColor: BI,
            borderWidth: 1.6,
            pointRadius: 0,
            order: 5,
          },
          {
            type: "line",
            data: segBars.map((b, k) => ({ x: b, y: segPrices[k] })),
            borderColor: SEG,
            borderWidth: 2.6,
            pointRadius: 0,
            order: 4,
          },
        ] as any,
      },
      options: {
        animation: false,
        responsive: false,
        devicePixelRatio: 1,
        layout: { padding: 0, autoPadding: false },
        plugins: { legend: { display: false }, tooltip: { enabled: false } },
        scales: {
          x: { type: "linear", min: X_MIN, max: X_MAX, display: false, offset: false },
          y: { ...yAxisCommon(priceTicks), min: 3751.43, max: 3895.21 },
        } as any,
      },
      plugins: [mainPlugin],
    } as any);

    const macdChart = new Chart(macdRef.current as HTMLCanvasElement, {
      type: "bar",
      data: {
        datasets: [
          {
            type: "bar",
            data: idx.map((i) => ({ x: i, y: macdHist[i] })),
            backgroundColor: idx.map((i) => (macdHist[i] >= 0 ? UP : DOWN)),
            barThickness: 3,
            grouped: false,
            order: 5,
          },
          {
            type: "line",
            data: difBars.map((b, k) => ({ x: b, y: difValues[k] })),
            borderColor: DIF,
            borderWidth: 1,
            pointRadius: 0,
            order: 2,
          },
          {
            type: "line",
            data: deaBars.map((b, k) => ({ x: b, y: deaValues[k] })),
            borderColor: DEA,
            borderWidth: 1,
            pointRadius: 0,
            order: 3,
          },
        ] as any,
      },
      options: {
        animation: false,
        responsive: false,
        devicePixelRatio: 1,
        layout: { padding: { top: 553 - B_TOP, bottom: 775 - 707, left: 0, right: 0 }, autoPadding: false },
        plugins: { legend: { display: false }, tooltip: { enabled: false } },
        scales: {
          x: { type: "linear", min: X_MIN, max: X_MAX, display: false, offset: false },
          y: { ...yAxisCommon(macdTickValues), min: -18.14, max: 17.67 },
        } as any,
      },
      plugins: [macdPlugin],
    } as any);

    return () => {
      mainChart.destroy();
      macdChart.destroy();
    };
  }, []);

  return (
    <div
      style={{
        position: "fixed",
        left: 0,
        top: 0,
        width: 1390,
        height: 775,
        background: PAGE_BG,
        overflow: "hidden",
      }}
    >
      <canvas ref={mainRef} width={1390} height={553} style={{ position: "absolute", left: 0, top: 0 }} />
      <canvas ref={macdRef} width={1390} height={775 - B_TOP} style={{ position: "absolute", left: 0, top: B_TOP }} />
    </div>
  );
}
